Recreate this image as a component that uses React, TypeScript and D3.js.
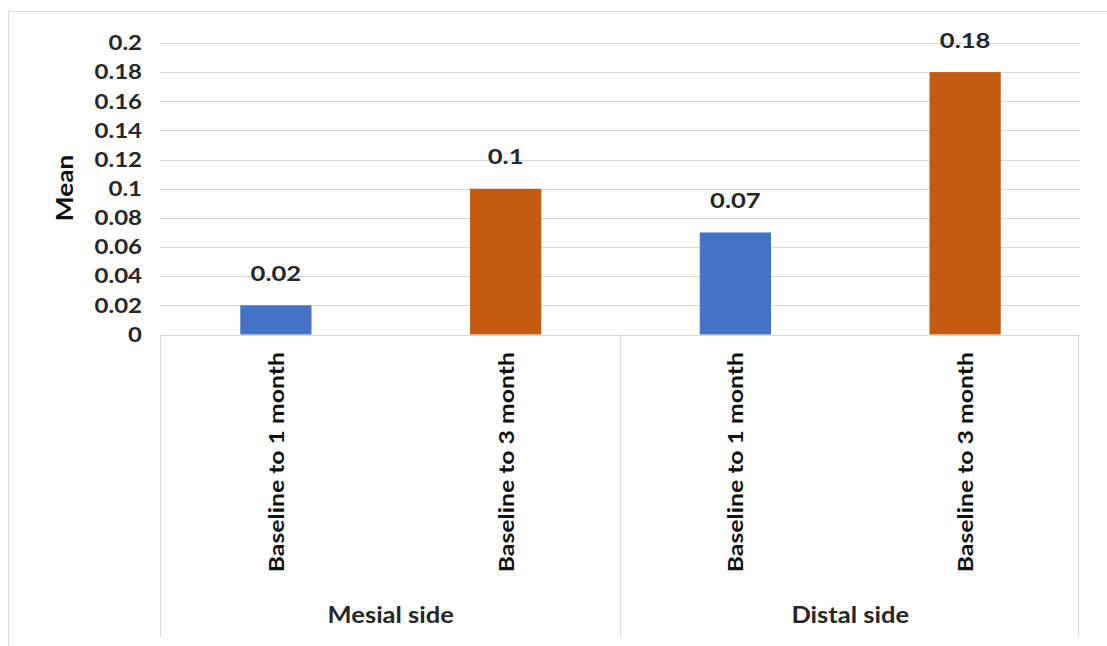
import React from "react";
import * as d3 from "d3";

const categories = ["Baseline to 1 month", "Baseline to 3 month", "Baseline to 1 month", "Baseline to 3 month"];
const groups = ["Mesial side", "Distal side"];
const values = [0.02, 0.1, 0.07, 0.18];
const valueLabels = ["0.02", "0.1", "0.07", "0.18"];
const yTicks = [0, 0.02, 0.04, 0.06, 0.08, 0.1, 0.12, 0.14, 0.16, 0.18, 0.2];
const yTickLabels = ["0", "0.02", "0.04", "0.06", "0.08", "0.1", "0.12", "0.14", "0.16", "0.18", "0.2"];
const barColors = ["#4472C4", "#C55A11", "#4472C4", "#C55A11"];

const W = 1107, H = 646;
const left = 161, right = 1080, top = 43, bottom = 334.5;
const FONT = "Lato, 'Open Sans', sans-serif";
const TXT = "#262626";
const GRID = "#d9d9d9";

export default function App() {
  const x = d3.scaleBand<number>().domain(d3.range(categories.length)).range([left, right]).paddingInner(0.69).paddingOuter(0.345);
  const y = d3.scaleLinear().domain([0, 0.2]).range([bottom, top]);
  const step = (right - left) / categories.length;
  const groupX = d3.scaleBand<number>().domain(d3.range(groups.length)).range([left, right]);
  const sepX = [160.5, 620.5, 1078.5];
  return (
    <svg width={W} height={H} style={{ position: "absolute", left: 0, top: 0 }} fontFamily={FONT}>
      <rect x={0} y={0} width={W} height={H} fill="#fff" />
      <line x1={8.5} x2={W} y1={11.5} y2={11.5} stroke={GRID} />
      <line x1={8.5} x2={8.5} y1={11.5} y2={H} stroke={GRID} />
      {yTicks.map((t, i) => (
        <g key={i}>
          <line x1={160} x2={right} y1={Math.round(y(t)) + 0.5} y2={Math.round(y(t)) + 0.5} stroke={GRID} strokeWidth={1} />
          <text transform={`translate(142,${y(t)}) scale(1.2,1)`} dy="0.36em" textAnchor="end" fontSize={20} fontWeight="bold" fill={TXT}>{yTickLabels[i]}</text>
        </g>
      ))}
      <text transform={`translate(73,188) rotate(-90) scale(1.14,1)`} textAnchor="middle" fontSize={23} fontWeight="bold" fill="#111">Mean</text>
      {values.map((v, i) => (
        <g key={i}>
          <rect x={x(i)} y={y(v)} width={x.bandwidth()} height={bottom - y(v)} fill={barColors[i]} />
          <text transform={`translate(${x(i)! + x.bandwidth() / 2},${y(v) - 24.5}) scale(1.22,1)`} textAnchor="middle" fontSize={21} fontWeight="bold" fill={TXT}>{valueLabels[i]}</text>
          <text transform={`translate(${left + step * (i + 0.5) + 8},352) rotate(-90) scale(1.24,1)`} textAnchor="end" fontSize={20} fontWeight="bold" fill="#111">{categories[i]}</text>
        </g>
      ))}
      {sepX.map((sx, k) => (
        <line key={k} x1={sx} x2={sx} y1={bottom} y2={637} stroke={GRID} />
      ))}
      {groups.map((g, i) => (
        <text key={i} transform={`translate(${groupX(i)! + groupX.bandwidth() / 2},615) scale(1.16,1)`} dy="0.36em" textAnchor="middle" fontSize={22} fontWeight="bold" fill={TXT}>{g}</text>
      ))}
    </svg>
  );
}
